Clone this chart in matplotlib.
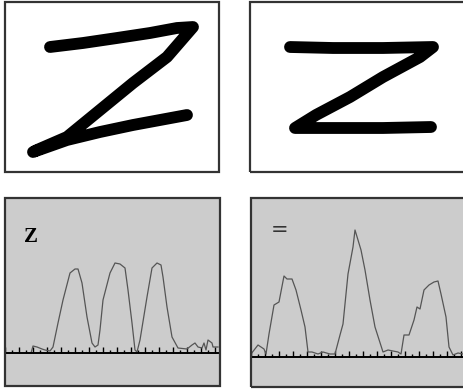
import numpy as np
import matplotlib
matplotlib.use("Agg")
import matplotlib.pyplot as plt
from matplotlib.patches import Rectangle
from matplotlib.ticker import MultipleLocator

W, H = 463, 390

# hand-drawn stroke traces (image pixel coords)
left_z_x = [50, 83, 117, 150, 177, 193, 167, 133, 100, 67, 37, 33, 67, 100, 133, 160, 187]
left_z_y = [47, 43, 38, 33, 28, 27, 57, 83, 110, 137, 150, 152, 140, 132, 125, 120, 115]
right_z_x = [290, 333, 383, 433, 420, 383, 350, 316, 295, 333, 383, 431]
right_z_y = [47, 48, 48, 47, 57, 77, 97, 115, 128, 128, 128, 127]

# projection profiles: column (px from panel left) and height above baseline (px)
prof_z_col = [26, 28, 32, 37, 40, 45, 48, 53, 58, 65, 70, 73, 77, 82, 87, 90, 93, 95,
              98, 105, 110, 115, 120, 123, 127, 130, 132, 135, 142, 147, 152, 156, 158,
              162, 167, 173, 182, 187, 190, 193, 197, 199, 201, 203, 207, 208, 213]
prof_z_val = [0, 7, 6, 4, 3, 2, 6, 30, 53, 80, 84, 84, 70, 36, 10, 6, 8, 23,
              53, 80, 90, 89, 85, 63, 30, 3, 1, 13, 56, 85, 90, 88, 76,
              46, 16, 5, 4, 8, 10, 6, 5, 10, 3, 13, 10, 6, 6]

prof_eq_col = [0, 7, 13, 15, 18, 23, 28, 33, 36, 41, 45, 50, 54, 57, 61, 67, 72, 79, 84,
               89, 92, 97, 102, 104, 107, 110, 114, 119, 124, 132, 137, 147, 150, 153,
               158, 163, 166, 169, 173, 178, 183, 187, 190, 195, 198, 202, 207, 212]
prof_eq_val = [3, 12, 8, 3, 23, 52, 55, 81, 78, 78, 67, 47, 30, 5, 5, 3, 5, 3, 3,
               22, 33, 83, 110, 127, 117, 107, 87, 57, 30, 5, 7, 5, 3, 22,
               22, 37, 50, 48, 67, 72, 75, 76, 63, 40, 10, 2, 4, 3]

label_z = "Z"
label_eq = "="

BORDER = "#333333"
GRAY_BG = "#cccccc"
CURVE = "#555555"


def frame(ax, lw=1.6):
    ax.add_patch(Rectangle((0, 0), 1, 1, transform=ax.transAxes, fill=False,
                           edgecolor=BORDER, lw=lw, clip_on=False, zorder=10))


def stroke_panel(rect, xs, ys, xlim):
    ax = fig.add_axes(rect)
    ax.plot(xs, ys, color="black", lw=8.5, solid_capstyle="round",
            solid_joinstyle="round")
    ax.set_xlim(*xlim)
    ax.set_ylim(172, 2)
    ax.set_xticks([])
    ax.set_yticks([])
    for s in ax.spines.values():
        s.set_visible(False)
    frame(ax)
    return ax


def profile_panel(rect, cols, vals, xlim, ylim, label, lab_pos, lab_kw):
    ax = fig.add_axes(rect, facecolor=GRAY_BG)
    ax.plot(cols, vals, color=CURVE, lw=0.9)
    ax.set_xlim(*xlim)
    ax.set_ylim(*ylim)
    for k in ("top", "left", "right"):
        ax.spines[k].set_visible(False)
    ax.spines["bottom"].set_position(("data", 0))
    ax.spines["bottom"].set_linewidth(1.4)
    ax.spines["bottom"].set_color("black")
    ax.xaxis.set_major_locator(MultipleLocator(14))
    ax.xaxis.set_minor_locator(MultipleLocator(7))
    ax.tick_params(axis="x", which="major", direction="in", length=4, width=1,
                   labelbottom=False)
    ax.tick_params(axis="x", which="minor", direction="in", length=2, width=1)
    ax.set_yticks([])
    ax.text(lab_pos[0], lab_pos[1], label, transform=ax.transAxes, **lab_kw)
    frame(ax)
    return ax


fig = plt.figure(figsize=(W / 100, H / 100), dpi=100)

stroke_panel([5 / W, (H - 172) / H, 214 / W, 170 / H], left_z_x, left_z_y, (5, 219))
stroke_panel([250 / W, (H - 172) / H, 220 / W, 170 / H], right_z_x, right_z_y, (250, 470))

profile_panel([5 / W, (H - 386) / H, 215 / W, 188 / H], prof_z_col, prof_z_val,
              (0, 215), (-33, 155), label_z, (0.09, 0.795),
              dict(family="Liberation Serif", fontweight="bold", fontsize=15,
                   va="center", ha="left"))
profile_panel([251 / W, (H - 387) / H, 220 / W, 189 / H], prof_eq_col, prof_eq_val,
              (0, 220), (-30, 159), label_eq, (0.09, 0.83),
              dict(family="DejaVu Sans", fontsize=15, color="#333333",
                   va="center", ha="left"))

fig.savefig("out.png", dpi=100)
